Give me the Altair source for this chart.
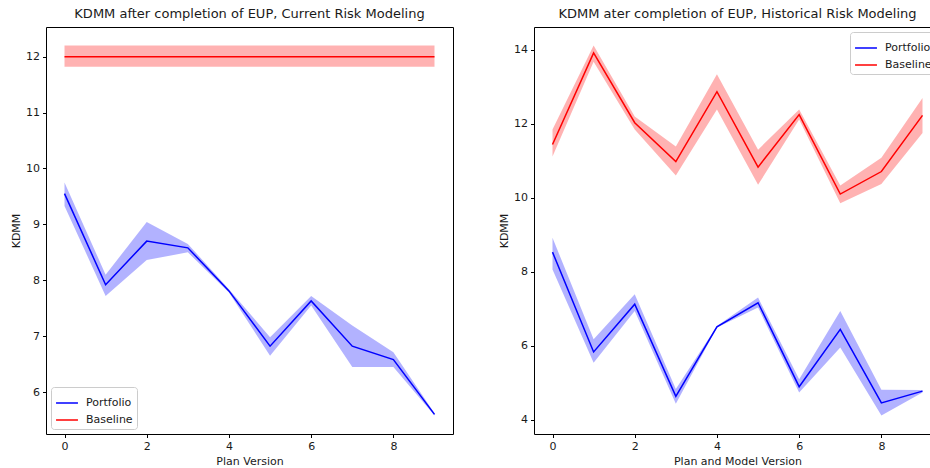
import altair as alt
import pandas as pd

# Plan versions on the x axis
versions = list(range(10))

# Current risk modeling: portfolio mean and confidence band
cur_port = [9.55, 7.92, 8.70, 8.58, 7.81, 6.82, 7.63, 6.82, 6.58, 5.60]
cur_port_lo = [9.33, 7.72, 8.36, 8.50, 7.78, 6.65, 7.55, 6.45, 6.45, 5.58]
cur_port_hi = [9.75, 8.10, 9.04, 8.65, 7.84, 6.98, 7.72, 7.19, 6.71, 5.62]
# Current risk modeling: baseline (flat)
cur_base = [12.0] * 10
cur_base_lo = [11.82] * 10
cur_base_hi = [12.20] * 10

# Historical risk modeling: portfolio
hist_port = [8.53, 5.83, 7.12, 4.63, 6.51, 7.16, 4.89, 6.44, 4.45, 4.77]
hist_port_lo = [8.06, 5.54, 6.94, 4.43, 6.49, 7.03, 4.73, 5.95, 4.11, 4.73]
hist_port_hi = [8.92, 6.17, 7.39, 4.83, 6.53, 7.30, 5.09, 6.94, 4.81, 4.80]
# Historical risk modeling: baseline
hist_base = [11.44, 13.92, 12.03, 10.98, 12.87, 10.83, 12.25, 10.10, 10.71, 12.23]
hist_base_lo = [11.12, 13.68, 11.85, 10.60, 12.39, 10.35, 12.12, 9.85, 10.37, 11.75]
hist_base_hi = [11.85, 14.12, 12.20, 11.39, 13.34, 11.30, 12.39, 10.33, 11.08, 12.70]

series_names = ["Portfolio", "Baseline"]
series_colors = ["#0000ff", "#ff0000"]

FONT = "DejaVu Sans"
TEXT = "#1a1a1a"


def frame(port, port_lo, port_hi, base, base_lo, base_hi):
    rows = []
    for name, m, lo, hi in [("Portfolio", port, port_lo, port_hi),
                            ("Baseline", base, base_lo, base_hi)]:
        for v, a, b, c in zip(versions, m, lo, hi):
            rows.append({"version": v, "series": name, "kdmm": a, "lo": b, "hi": c})
    return pd.DataFrame(rows)


def padded(lo_vals, hi_vals, frac=0.05):
    lo, hi = min(lo_vals), max(hi_vals)
    pad = (hi - lo) * frac
    return [lo - pad, hi + pad]


def make_legend(orient):
    return alt.Legend(title=None, orient=orient, offset=5,
                      symbolType="stroke", symbolStrokeWidth=1.5,
                      symbolSize=480, symbolOpacity=1,
                      labelFontSize=11, labelFont=FONT,
                      labelColor=TEXT, rowPadding=0, padding=4,
                      strokeColor="#cccccc", fillColor="#ffffff",
                      cornerRadius=3, labelOffset=7)


def panel(df, title, xtitle, ydomain, yticks, legend_orient):
    x = alt.X("version:Q", title=xtitle,
              scale=alt.Scale(domain=[-0.45, 9.45], nice=False, zero=False),
              axis=alt.Axis(values=[0, 2, 4, 6, 8], grid=False, format="d"))
    color_scale = alt.Scale(domain=series_names, range=series_colors)
    yscale = alt.Scale(domain=ydomain, nice=False, zero=False)
    color = alt.Color("series:N", scale=color_scale, sort=series_names,
                      legend=make_legend(legend_orient))

    band = alt.Chart(df).mark_area(opacity=0.3).encode(
        x=x,
        y=alt.Y("lo:Q", title="KDMM", scale=yscale,
                axis=alt.Axis(values=yticks, grid=False, format="d")),
        y2="hi:Q",
        color=color,
    )
    line = alt.Chart(df).mark_line(strokeWidth=1.5).encode(
        x=x,
        y=alt.Y("kdmm:Q", scale=yscale),
        color=color,
    )
    return alt.layer(band, line).properties(
        width=407, height=407,
        title=alt.Title(title, fontSize=13, font=FONT, fontWeight="normal",
                        color=TEXT, offset=6),
    )


df_cur = frame(cur_port, cur_port_lo, cur_port_hi, cur_base, cur_base_lo, cur_base_hi)
df_hist = frame(hist_port, hist_port_lo, hist_port_hi, hist_base, hist_base_lo, hist_base_hi)

left = panel(df_cur, "KDMM after completion of EUP, Current Risk Modeling",
             "Plan Version",
             padded(cur_port_lo + cur_base_lo, cur_port_hi + cur_base_hi),
             [6, 7, 8, 9, 10, 11, 12], "bottom-left")
right = panel(df_hist, "KDMM ater completion of EUP, Historical Risk Modeling",
              "Plan and Model Version",
              padded(hist_port_lo + hist_base_lo, hist_port_hi + hist_base_hi),
              [4, 6, 8, 10, 12, 14], "top-right")

# The right-hand panel runs past the page edge; a negative right padding
# trims the drawing surface so that its edge is cut off.
chart = alt.hconcat(left, right, spacing=44).resolve_scale(
    color="independent"
).resolve_legend(color="independent").properties(
    padding={"left": 10, "top": 7, "right": -12, "bottom": 0},
    background="white",
).configure_view(
    stroke="#000000", strokeWidth=1
).configure_axis(
    domain=False, tickColor="#000000", tickSize=3.5, tickWidth=1,
    labelFont=FONT, labelFontSize=11, labelColor=TEXT, labelPadding=3,
    titleFont=FONT, titleFontSize=11, titleColor=TEXT, titleFontWeight="normal",
    titlePadding=4,
)

chart.save("out.html", embed_options={"renderer": "svg", "actions": False})
